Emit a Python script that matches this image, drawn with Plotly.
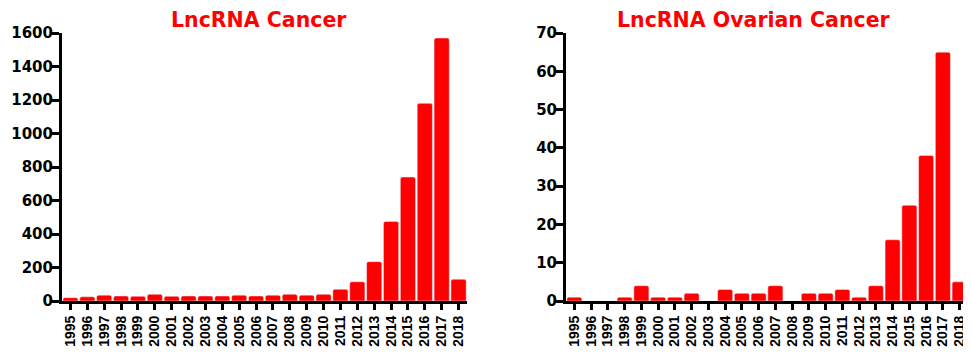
import plotly.graph_objects as go

years = [str(y) for y in range(1995, 2019)]
cancer = [20, 25, 35, 30, 28, 40, 28, 30, 30, 30, 35, 30, 35, 40, 35, 40,
          70, 115, 235, 475, 740, 1180, 1570, 130]
ovarian = [1, 0, 0, 1, 4, 1, 1, 2, 0, 3, 2, 2, 4, 0, 2, 2, 3, 1, 4,
           16, 25, 38, 65, 5]
titles = ["LncRNA Cancer", "LncRNA Ovarian Cancer"]

# the page body adds an 8px margin, so the figure is smaller and offset
OFF = 8
W, H = 971 - OFF, 356 - 2 * OFF
T = 33 - OFF
B = H - (301 - OFF)
PH = H - T - B
RED = "#ff0000"
WIDE = "DejaVu Sans, sans-serif"
NARROW = "Liberation Sans, Arial, sans-serif"


def px(x):
    return (x - OFF) / W


fig = go.Figure()
fig.add_trace(go.Bar(x=years, y=cancer, marker=dict(color=RED, cornerradius=2),
                     xaxis="x", yaxis="y", showlegend=False))
fig.add_trace(go.Bar(x=years, y=ovarian, marker=dict(color=RED, cornerradius=2),
                     xaxis="x2", yaxis="y2", showlegend=False))

xcommon = dict(type="category", range=[-0.5, 23.5], showline=True, linewidth=3,
               linecolor="black", ticks="outside", ticklen=6, tickwidth=2.5,
               tickcolor="black", tickangle=-90, showgrid=False, zeroline=False,
               tickmode="array", tickvals=years, ticktext=years, automargin=False,
               tickfont=dict(family=NARROW, size=14, color="black", weight="bold"))
ycommon = dict(showline=True, linewidth=3, linecolor="black", ticks="outside",
               ticklen=8, tickwidth=2.5, tickcolor="black", showgrid=False,
               zeroline=False, automargin=False, ticklabelstandoff=-5,
               tickfont=dict(family=WIDE, size=15, color="black", weight="bold"))

ty = 1 + (T - (20 - OFF)) / PH
fig.update_layout(
    width=W, height=H,
    margin=dict(l=0, r=0, t=T, b=B, autoexpand=False),
    paper_bgcolor="white", plot_bgcolor="white",
    bargap=0.1,
    xaxis=dict(domain=[px(62), px(467)], anchor="y", **xcommon),
    xaxis2=dict(domain=[px(566), px(968)], anchor="y2", **xcommon),
    yaxis=dict(domain=[0, 1], anchor="x", range=[0, 1600], dtick=200, **ycommon),
    yaxis2=dict(domain=[0, 1], anchor="x2", range=[0, 70], dtick=10, **ycommon),
    annotations=[
        dict(text=titles[0], x=px(259), y=ty, xref="paper", yref="paper",
             xanchor="center", yanchor="middle", showarrow=False,
             font=dict(family=WIDE, size=20.5, color=RED, weight="bold")),
        dict(text=titles[1], x=px(754), y=ty, xref="paper", yref="paper",
             xanchor="center", yanchor="middle", showarrow=False,
             font=dict(family=WIDE, size=20.5, color=RED, weight="bold")),
    ],
)

fig.write_html("out.html")
